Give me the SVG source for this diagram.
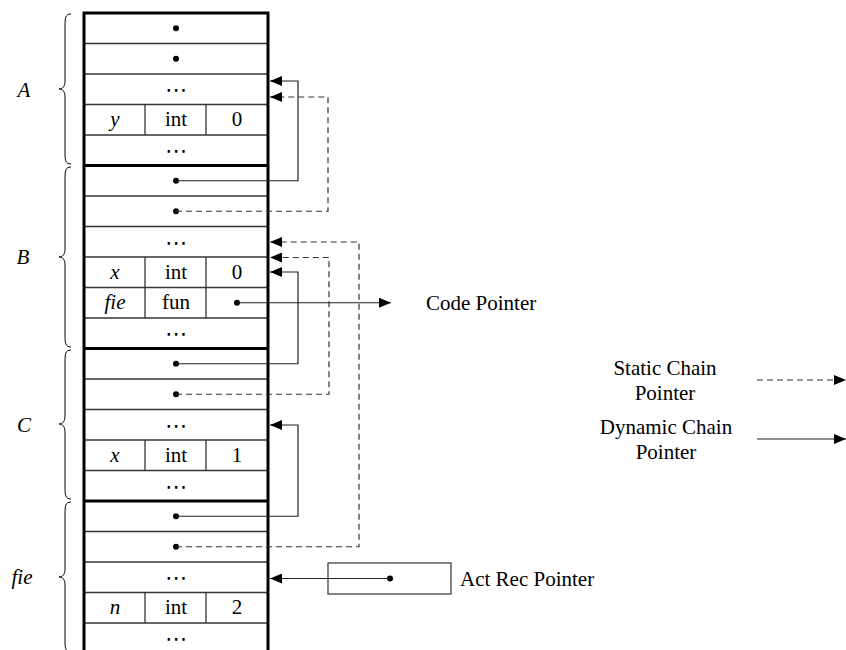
<svg xmlns="http://www.w3.org/2000/svg" width="846" height="650" viewBox="0 0 846 650">
<style>
text{font-family:"Liberation Serif","Times New Roman",serif;font-size:21px;fill:#000}
.m{font-style:italic}
.c{text-anchor:middle}
.el{font-family:"DejaVu Sans",sans-serif;font-size:22px;text-anchor:middle}
.sep{stroke:#333;stroke-width:1.3}
.thick{stroke:#000;stroke-width:3;fill:none}
.brace{fill:none;stroke:#000;stroke-width:1}
.sol{fill:none;stroke:#222;stroke-width:1.2}
.dash{fill:none;stroke:#333;stroke-width:1.2;stroke-dasharray:6 4}
.dot{fill:#000}
</style>
<defs>
<marker id="ah" markerUnits="userSpaceOnUse" markerWidth="12" markerHeight="10" refX="12" refY="5" orient="auto">
<path d="M0,0 L12,5 L0,10 z" fill="#000"/>
</marker>
</defs>

<g id="braces">
<path class="brace" d="M71,14 C65,14 65,19 65,26 L65,81 C65,86 63,89 59,89 C63,89 65,92 65,97 L65,152 C65,159 65,164 71,164"/>
<path class="brace" d="M71,167 C65,167 65,172 65,179 L65,249 C65,254 63,257 59,257 C63,257 65,260 65,265 L65,335 C65,342 65,347 71,347"/>
<path class="brace" d="M71,350 C65,350 65,355 65,362 L65,416 C65,421 63,424 59,424 C63,424 65,427 65,432 L65,487 C65,494 65,499 71,499"/>
<path class="brace" d="M71,502 C65,502 65,507 65,514 L65,569 C65,574 63,577 59,577 C63,577 65,580 65,585 L65,640 C65,647 65,652 71,652"/>
</g>
<g id="labels">
<text class="m c" x="24" y="97">A</text>
<text class="m c" x="23" y="264">B</text>
<text class="m c" x="24" y="432">C</text>
<text class="m c" x="22" y="584">fie</text>
</g>

<g id="stack">
<g id="separators">
<line class="sep" x1="84" y1="43.5" x2="268" y2="43.5"/>
<line class="sep" x1="84" y1="74" x2="268" y2="74"/>
<line class="sep" x1="84" y1="104.5" x2="268" y2="104.5"/>
<line class="sep" x1="84" y1="135" x2="268" y2="135"/>
<line class="sep" x1="84" y1="196" x2="268" y2="196"/>
<line class="sep" x1="84" y1="226.5" x2="268" y2="226.5"/>
<line class="sep" x1="84" y1="257" x2="268" y2="257"/>
<line class="sep" x1="84" y1="287.5" x2="268" y2="287.5"/>
<line class="sep" x1="84" y1="318" x2="268" y2="318"/>
<line class="sep" x1="84" y1="379" x2="268" y2="379"/>
<line class="sep" x1="84" y1="409.5" x2="268" y2="409.5"/>
<line class="sep" x1="84" y1="440" x2="268" y2="440"/>
<line class="sep" x1="84" y1="470.5" x2="268" y2="470.5"/>
<line class="sep" x1="84" y1="531.5" x2="268" y2="531.5"/>
<line class="sep" x1="84" y1="562" x2="268" y2="562"/>
<line class="sep" x1="84" y1="592.5" x2="268" y2="592.5"/>
<line class="sep" x1="84" y1="623" x2="268" y2="623"/>
<line class="sep" x1="145" y1="104.5" x2="145" y2="135"/>
<line class="sep" x1="206" y1="104.5" x2="206" y2="135"/>
<line class="sep" x1="145" y1="257" x2="145" y2="318"/>
<line class="sep" x1="206" y1="257" x2="206" y2="318"/>
<line class="sep" x1="145" y1="440" x2="145" y2="470.5"/>
<line class="sep" x1="206" y1="440" x2="206" y2="470.5"/>
<line class="sep" x1="145" y1="592.5" x2="145" y2="623"/>
<line class="sep" x1="206" y1="592.5" x2="206" y2="623"/>
</g>
<path class="thick" d="M84,652 V13 H268 V652"/>
<line class="thick" x1="84" y1="165.5" x2="268" y2="165.5"/>
<line class="thick" x1="84" y1="348.5" x2="268" y2="348.5"/>
<line class="thick" x1="84" y1="501" x2="268" y2="501"/>
</g>

<g id="frameA">
<circle class="dot" cx="176" cy="28.25" r="3"/>
<circle class="dot" cx="176" cy="58.75" r="3"/>
<text class="el" x="176" y="97">⋯</text>
<text class="m c" x="115" y="126">y</text>
<text class="c" x="176" y="126">int</text>
<text class="c" x="237" y="126">0</text>
<text class="el" x="176" y="158">⋯</text>
</g>
<g id="frameB">
<circle class="dot" cx="176" cy="180.75" r="3"/>
<circle class="dot" cx="176" cy="211.25" r="3"/>
<text class="el" x="176" y="249.5">⋯</text>
<text class="m c" x="115" y="278.5">x</text>
<text class="c" x="176" y="278.5">int</text>
<text class="c" x="237" y="278.5">0</text>
<text class="m c" x="115" y="309">fie</text>
<text class="c" x="176" y="309">fun</text>
<circle class="dot" cx="237" cy="302.75" r="3"/>
<text class="el" x="176" y="341">⋯</text>
</g>
<g id="frameC">
<circle class="dot" cx="176" cy="363.75" r="3"/>
<circle class="dot" cx="176" cy="394.25" r="3"/>
<text class="el" x="176" y="432.5">⋯</text>
<text class="m c" x="115" y="461.5">x</text>
<text class="c" x="176" y="461.5">int</text>
<text class="c" x="237" y="461.5">1</text>
<text class="el" x="176" y="493.5">⋯</text>
</g>
<g id="frameFie">
<circle class="dot" cx="176" cy="516.25" r="3"/>
<circle class="dot" cx="176" cy="546.75" r="3"/>
<text class="el" x="176" y="585">⋯</text>
<text class="m c" x="115" y="614">n</text>
<text class="c" x="176" y="614">int</text>
<text class="c" x="237" y="614">2</text>
<text class="el" x="176" y="646">⋯</text>
</g>

<g id="actrec">
<rect x="328" y="563" width="123" height="31" fill="none" stroke="#333" stroke-width="1.2"/>
<circle class="dot" cx="390" cy="578.5" r="3"/>
<text x="460" y="586">Act Rec Pointer</text>
</g>
<g id="codeptr">
<text x="426" y="310">Code Pointer</text>
</g>
<g id="legend">
<text class="c" x="665" y="375">Static Chain</text>
<text class="c" x="665" y="400">Pointer</text>
<text class="c" x="666" y="434">Dynamic Chain</text>
<text class="c" x="666" y="459">Pointer</text>
</g>

<g id="connectors">
<path class="sol" d="M176,180.75 H298 V81 H270" marker-end="url(#ah)"/>
<path class="dash" d="M176,211.25 H328 V97 H270" marker-end="url(#ah)"/>
<path class="dash" d="M176,546.75 H359 V242 H270" marker-end="url(#ah)"/>
<path class="dash" d="M176,394.25 H329 V257.5 H270" marker-end="url(#ah)"/>
<path class="sol" d="M176,363.75 H298 V272 H270" marker-end="url(#ah)"/>
<path class="sol" d="M176,516.25 H298 V425 H270" marker-end="url(#ah)"/>
<path class="sol" d="M237,302.75 H391" marker-end="url(#ah)"/>
<path class="sol" d="M390,578.5 H270" marker-end="url(#ah)"/>
<path class="dash" d="M757,380 H846" marker-end="url(#ah)"/>
<path class="sol" d="M757,439 H846" marker-end="url(#ah)"/>
</g>
</svg>
